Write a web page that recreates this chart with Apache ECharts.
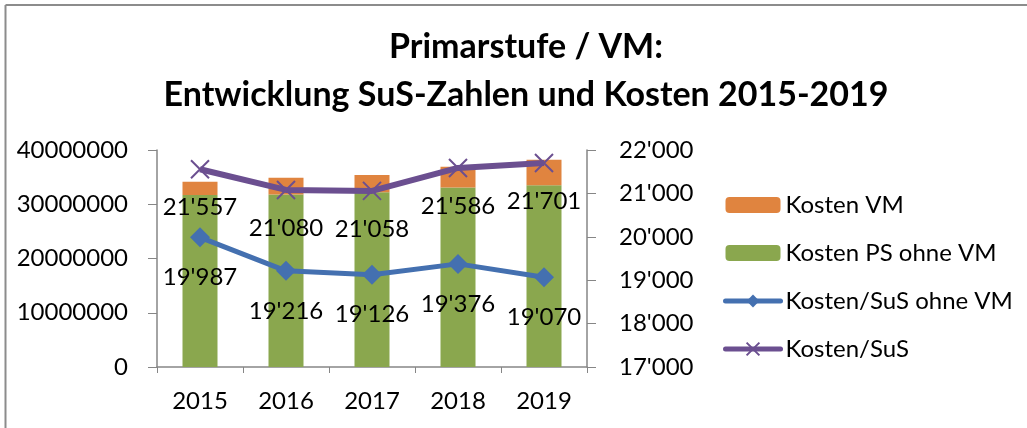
<!DOCTYPE html>
<html>
<head>
<meta charset="utf-8">
<script src="https://cdn.jsdelivr.net/npm/echarts@6/dist/echarts.min.js"></script>
<style>
  html, body { margin: 0; padding: 0; background: #fff; }
  #chart { width: 1027px; height: 428px; }
</style>
</head>
<body>
<div id="chart"></div>
<script>
// Jahre
var years = ['2015', '2016', '2017', '2018', '2019'];
// Kosten (CHF), gestapelt
var kostenPsOhneVm = [31700000, 31800000, 32200000, 33100000, 33500000];
var kostenVm = [2460000, 3100000, 3200000, 3800000, 4700000];
// Kosten pro SuS
var kostenSusOhneVm = [19987, 19216, 19126, 19376, 19070];
var kostenSus = [21557, 21080, 21058, 21586, 21701];

var font = 'Lato, "Open Sans", sans-serif';
var axisGrey = '#868686';
var blue = '#4470B0';
var purple = '#6B4F90';

function apos(v) {
  var t = Math.floor(v / 1000);
  var r = String(Math.round(v % 1000));
  while (r.length < 3) r = '0' + r;
  return t + "'" + r;
}

var chart = echarts.init(document.getElementById('chart'));
var option = {
  animation: false,
  backgroundColor: '#fff',
  textStyle: { fontFamily: font },
  graphic: [
    { type: 'line', shape: { x1: 5.5, y1: 5, x2: 1027, y2: 5 }, style: { stroke: '#8c8c8c', lineWidth: 2 } },
    { type: 'line', shape: { x1: 5.5, y1: 5, x2: 5.5, y2: 428 }, style: { stroke: '#8c8c8c', lineWidth: 2 } },
    {
      type: 'text', x: 526, y: 23,
      style: {
        text: 'Primarstufe / VM:\nEntwicklung SuS-Zahlen und Kosten 2015-2019',
        fontFamily: font, fontWeight: 'bold', fontSize: 34, lineHeight: 48,
        textAlign: 'center', fill: '#000'
      }
    }
  ],
  legend: {
    orient: 'vertical',
    left: 718,
    top: 188,
    itemWidth: 55,
    itemHeight: 16,
    itemGap: 24,
    lineStyle: { width: 5, cap: 'round' },
    textStyle: { fontFamily: font, fontSize: 24, color: '#000' },
    data: ['Kosten VM', 'Kosten PS ohne VM', 'Kosten/SuS ohne VM', 'Kosten/SuS']
  },
  grid: { left: 157, right: 440, top: 150, bottom: 61 },
  xAxis: {
    type: 'category',
    data: years,
    axisLine: { lineStyle: { color: axisGrey, width: 1.5 } },
    axisTick: { show: true, length: 6, lineStyle: { color: axisGrey } },
    axisLabel: { color: '#000', fontSize: 24, margin: 22 }
  },
  yAxis: [{
    type: 'value',
    min: 0, max: 40000000, interval: 10000000,
    splitLine: { show: false },
    axisLine: { show: true, lineStyle: { color: axisGrey, width: 1.5 } },
    axisTick: { show: true, length: 9, lineStyle: { color: axisGrey } },
    axisLabel: { color: '#000', fontSize: 24, margin: 29, formatter: function (v) { return String(v); } }
  }, {
    type: 'value',
    min: 17000, max: 22000, interval: 1000,
    splitLine: { show: false },
    axisLine: { show: true, lineStyle: { color: axisGrey, width: 1.5 } },
    axisTick: { show: true, length: 9, lineStyle: { color: axisGrey } },
    axisLabel: { color: '#000', fontSize: 24, margin: 32, formatter: apos }
  }],
  series: [{
    name: 'Kosten PS ohne VM',
    type: 'bar',
    stack: 'kosten',
    barWidth: 35,
    itemStyle: { color: '#8AA74E' },
    data: kostenPsOhneVm
  }, {
    name: 'Kosten VM',
    type: 'bar',
    stack: 'kosten',
    barWidth: 35,
    itemStyle: { color: '#E0843F' },
    data: kostenVm
  }, {
    name: 'Kosten/SuS ohne VM',
    type: 'line',
    yAxisIndex: 1,
    symbol: 'diamond',
    symbolSize: 20,
    lineStyle: { color: blue, width: 5 },
    itemStyle: { color: blue },
    label: {
      show: true, position: 'bottom', distance: 18,
      fontSize: 24, color: '#000', fontFamily: font,
      formatter: function (p) { return apos(p.value); }
    },
    data: kostenSusOhneVm
  }, {
    name: 'Kosten/SuS',
    type: 'line',
    yAxisIndex: 1,
    symbol: 'path://M0,0L10,10M10,0L0,10',
    symbolSize: 18,
    lineStyle: { color: purple, width: 6 },
    itemStyle: { color: purple, borderColor: purple, borderWidth: 2 },
    label: {
      show: true, position: 'bottom', distance: 16,
      fontSize: 24, color: '#000', fontFamily: font,
      formatter: function (p) { return apos(p.value); }
    },
    data: kostenSus
  }]
};
chart.setOption(option);
</script>
</body>
</html>
